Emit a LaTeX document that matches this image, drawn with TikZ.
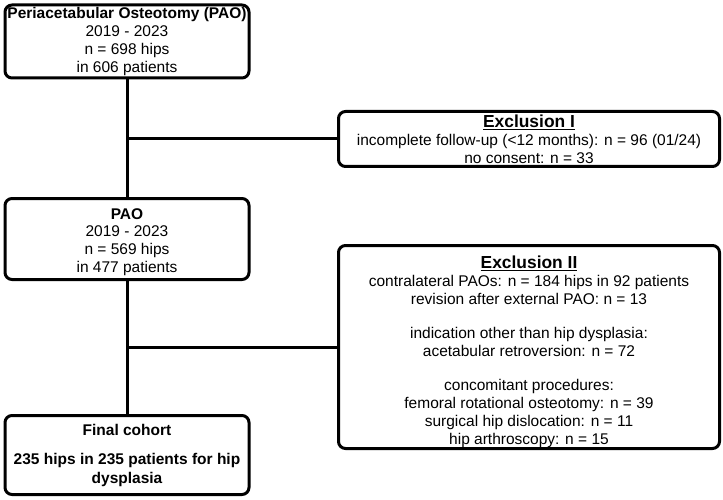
\documentclass[tikz,border=0pt]{standalone}
\usepackage{fontspec}
\setmainfont{Liberation Sans}
\newcommand{\extitle}[1]{{\bfseries\fontsize{17.4}{19}\selectfont\underline{#1}}}
\begin{document}
\begin{tikzpicture}[x=1pt,y=-1pt,
  box/.style={draw=black, line width=3pt, rounded corners=7pt, align=center,
    inner sep=0pt, font=\fontsize{15.5}{17.8}\selectfont},
  conn/.style={draw=black, line width=3pt}]
\useasboundingbox (0,0) rectangle (723,500);
\node[box, minimum width=244pt, minimum height=73pt] (b1) at (127,41.5)
  {\textbf{Periacetabular Osteotomy (PAO)}\\2019 - 2023\\n = 698 hips\\in 606 patients};
\node[box, minimum width=381pt, minimum height=55pt] (e1) at (529,139)
  {\extitle{Exclusion I}\\incomplete follow-up (<12 months): n = 96 (01/24)\\no consent: n = 33};
\node[box, minimum width=244pt, minimum height=81pt] (b2) at (127,239)
  {\rule{0pt}{17pt}\textbf{PAO}\\2019 - 2023\\n = 569 hips\\in 477 patients};
\node[box, minimum width=381pt, minimum height=203pt] (e2) at (529,347)
  {\rule{0pt}{22pt}\extitle{Exclusion II}\\contralateral PAOs: n = 184 hips in 92 patients\\revision after external PAO: n = 13\\[16.5pt]indication other than hip dysplasia:\\acetabular retroversion: n = 72\\[16.5pt]concomitant procedures:\\femoral rotational osteotomy: n = 39\\surgical hip dislocation: n = 11\\hip arthroscopy: n = 15};
\node[box, minimum width=244pt, minimum height=79pt, font=\bfseries\fontsize{15.5}{18.5}\selectfont] (b3) at (127,455)
  {Final cohort\\[11pt]235 hips in 235 patients for hip\\dysplasia};
\coordinate (j1) at (b1.south |- e1.west);
\coordinate (j2) at (b2.south |- e2.west);
\draw[conn] (b1.south) -- (b2.north);
\draw[conn] (b2.south) -- (b3.north);
\draw[conn] (j1) -- (e1.west);
\draw[conn] (j2) -- (e2.west);
\end{tikzpicture}
\end{document}
